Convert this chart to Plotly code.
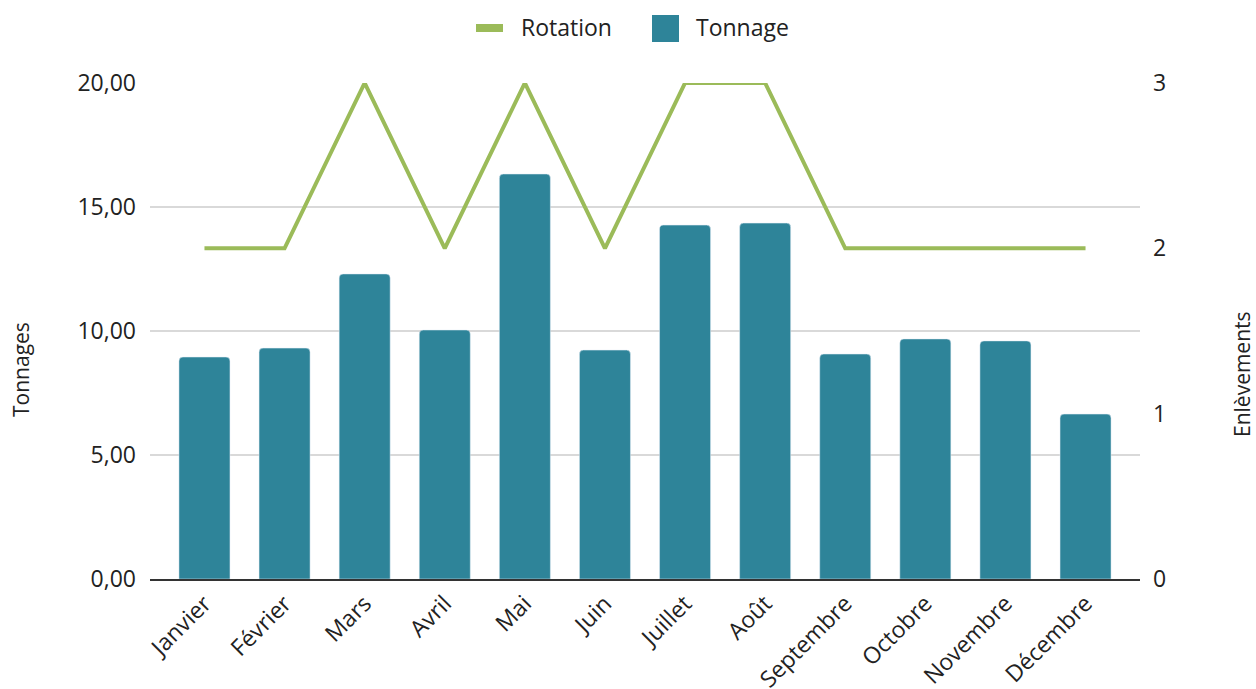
import plotly.graph_objects as go

months = ["Janvier", "Février", "Mars", "Avril", "Mai", "Juin", "Juillet", "Août",
          "Septembre", "Octobre", "Novembre", "Décembre"]
tonnage = [8.95, 9.31, 12.30, 10.04, 16.33, 9.23, 14.27, 14.35, 9.07, 9.68, 9.60, 6.65]
rotation = [2, 2, 3, 2, 3, 2, 3, 3, 2, 2, 2, 2]

left_ticks = [0, 5, 10, 15, 20]
right_ticks = [0, 1, 2, 3]

FONT = "Open Sans"
BAR_COLOR = "#2E8499"
LINE_COLOR = "#9BBB59"
TEXT = "#222222"
FS = 23
FS_TITLE = 21

W, H = 1256, 689
L, T, R, B = 150, 83, 116, 110
pw = W - L - R
ph = H - T - B


def px(x):
    return (x - L) / pw


def py(y):
    return (H - B - y) / ph


fig = go.Figure()
fig.add_trace(go.Bar(
    x=months, y=tonnage, name="Tonnage",
    marker=dict(color=BAR_COLOR, cornerradius=4),
    showlegend=False, yaxis="y",
))
fig.add_trace(go.Scatter(
    x=months, y=rotation, name="Rotation", mode="lines",
    line=dict(color=LINE_COLOR, width=4),
    showlegend=False, yaxis="y2",
))

legend_shapes = [
    dict(type="rect", xref="paper", yref="paper", x0=px(476), x1=px(503), y0=py(32), y1=py(24),
         fillcolor=LINE_COLOR, line=dict(width=0)),
    dict(type="rect", xref="paper", yref="paper", x0=px(652), x1=px(679), y0=py(42), y1=py(15),
         fillcolor=BAR_COLOR, line=dict(width=0)),
]

annotations = [
    dict(text="Rotation", xref="paper", yref="paper", x=px(519), y=py(27),
         xanchor="left", yanchor="middle", showarrow=False, font=dict(size=FS, color=TEXT)),
    dict(text="Tonnage", xref="paper", yref="paper", x=px(694), y=py(27),
         xanchor="left", yanchor="middle", showarrow=False, font=dict(size=FS, color=TEXT)),
    dict(text="Tonnages", xref="paper", yref="paper", x=px(21), y=py(370),
         textangle=-90, showarrow=False, xanchor="center", yanchor="middle", borderpad=0,
         font=dict(size=FS_TITLE, color=TEXT)),
    dict(text="Enlèvements", xref="paper", yref="paper", x=px(1242), y=py(374),
         textangle=-90, showarrow=False, xanchor="center", yanchor="middle", borderpad=0,
         font=dict(size=FS_TITLE, color=TEXT)),
]

fig.update_layout(
    width=W, height=H,
    margin=dict(l=L, r=R, t=T, b=B, autoexpand=False),
    paper_bgcolor="white", plot_bgcolor="white",
    separators=", ",
    font=dict(family=FONT, size=FS, color=TEXT),
    bargap=0.363,
    showlegend=False,
    xaxis=dict(
        tickangle=-45, showgrid=False, showline=True, linecolor="#333333", linewidth=2,
        ticks="", tickfont=dict(size=FS), automargin=False, range=[-0.68, 11.68],
    ),
    yaxis=dict(
        range=[0, 20], tickvals=left_ticks, tickformat=".2f",
        showgrid=True, gridcolor="#d9d9d9", gridwidth=2, zeroline=False,
        ticks="", tickfont=dict(size=FS), automargin=False, ticklabelstandoff=13,
    ),
    yaxis2=dict(
        range=[0, 3], tickvals=right_ticks, tickformat="d",
        overlaying="y", side="right", showgrid=False, zeroline=False,
        ticks="", tickfont=dict(size=FS), automargin=False, ticklabelstandoff=12,
    ),
    shapes=legend_shapes,
    annotations=annotations,
)

fig.write_html(
    "out.html",
    config={"displayModeBar": False},
    post_script="document.body.style.margin='0px';document.body.style.overflow='hidden';",
)
